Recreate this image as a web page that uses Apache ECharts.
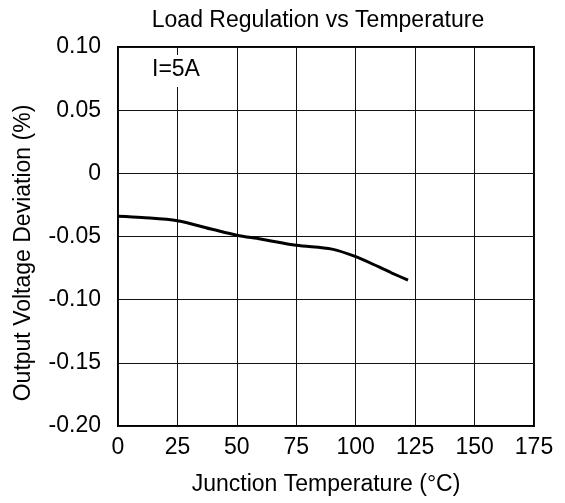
<!DOCTYPE html>
<html>
<head>
<meta charset="utf-8">
<script src="https://cdn.jsdelivr.net/npm/echarts@6/dist/echarts.min.js"></script>
<style>
  html, body { margin: 0; padding: 0; background: #fff; }
  #chart { width: 565px; height: 503px; }
</style>
</head>
<body>
<div id="chart"></div>
<script>
// junction temperature (C) and output voltage deviation (%)
const temps = [0, 10, 25, 40, 50, 60, 75, 90, 100, 110, 115, 122];
const deviation = [-0.034, -0.035, -0.0375, -0.0445, -0.049, -0.052, -0.057, -0.060, -0.066, -0.0743, -0.0787, -0.0846];
const xTicks = [0, 25, 50, 75, 100, 125, 150, 175];
const yTicks = [-0.20, -0.15, -0.10, -0.05, 0, 0.05, 0.10];

const font = 'Liberation Sans, Arial, sans-serif';
let chart = echarts.init(document.getElementById('chart'));

let option = {
  backgroundColor: '#fff',
  animation: false,
  title: {
    text: 'Load Regulation vs Temperature',
    left: 313,
    top: 4,
    textAlign: 'center',
    textStyle: { fontFamily: font, fontSize: 23, fontWeight: 'normal', color: '#000' }
  },
  grid: {
    left: 118, right: 31, top: 47, bottom: 77,
    show: true, borderColor: '#000', borderWidth: 2
  },
  xAxis: {
    type: 'value',
    min: xTicks[0],
    max: xTicks[xTicks.length - 1],
    interval: 25,
    name: 'Junction Temperature (\u00b0C)',
    nameLocation: 'middle',
    nameGap: 47,
    nameTextStyle: { fontFamily: font, fontSize: 23, color: '#000' },
    axisLine: { show: false },
    axisTick: { show: false },
    axisLabel: { fontFamily: font, fontSize: 23, color: '#000', margin: 10 },
    splitLine: { show: true, lineStyle: { color: '#111', width: 1 } }
  },
  yAxis: {
    type: 'value',
    min: yTicks[0],
    max: yTicks[yTicks.length - 1],
    interval: 0.05,
    name: 'Output Voltage Deviation (%)',
    nameLocation: 'middle',
    nameGap: 83,
    nameTextStyle: { fontFamily: font, fontSize: 23, color: '#000', padding: [0, 33, 0, 0] },
    axisLine: { show: false },
    axisTick: { show: false },
    axisLabel: {
      fontFamily: font, fontSize: 23, color: '#000', margin: 17,
      formatter: v => Math.abs(v) < 1e-9 ? '0' : v.toFixed(2)
    },
    splitLine: { show: true, lineStyle: { color: '#111', width: 1 } }
  },
  graphic: [{
    type: 'text',
    left: 150,
    top: 55,
    z: 10,
    style: {
      text: 'I=5A',
      fontFamily: font,
      fontSize: 23,
      fill: '#000',
      backgroundColor: '#fff',
      padding: [3, 2, 6, 2]
    }
  }],
  series: [{
    type: 'line',
    data: temps.map((t, i) => [t, deviation[i]]),
    smooth: 0.3,
    showSymbol: false,
    lineStyle: { color: '#000', width: 3 }
  }]
};

chart.setOption(option);
</script>
</body>
</html>
